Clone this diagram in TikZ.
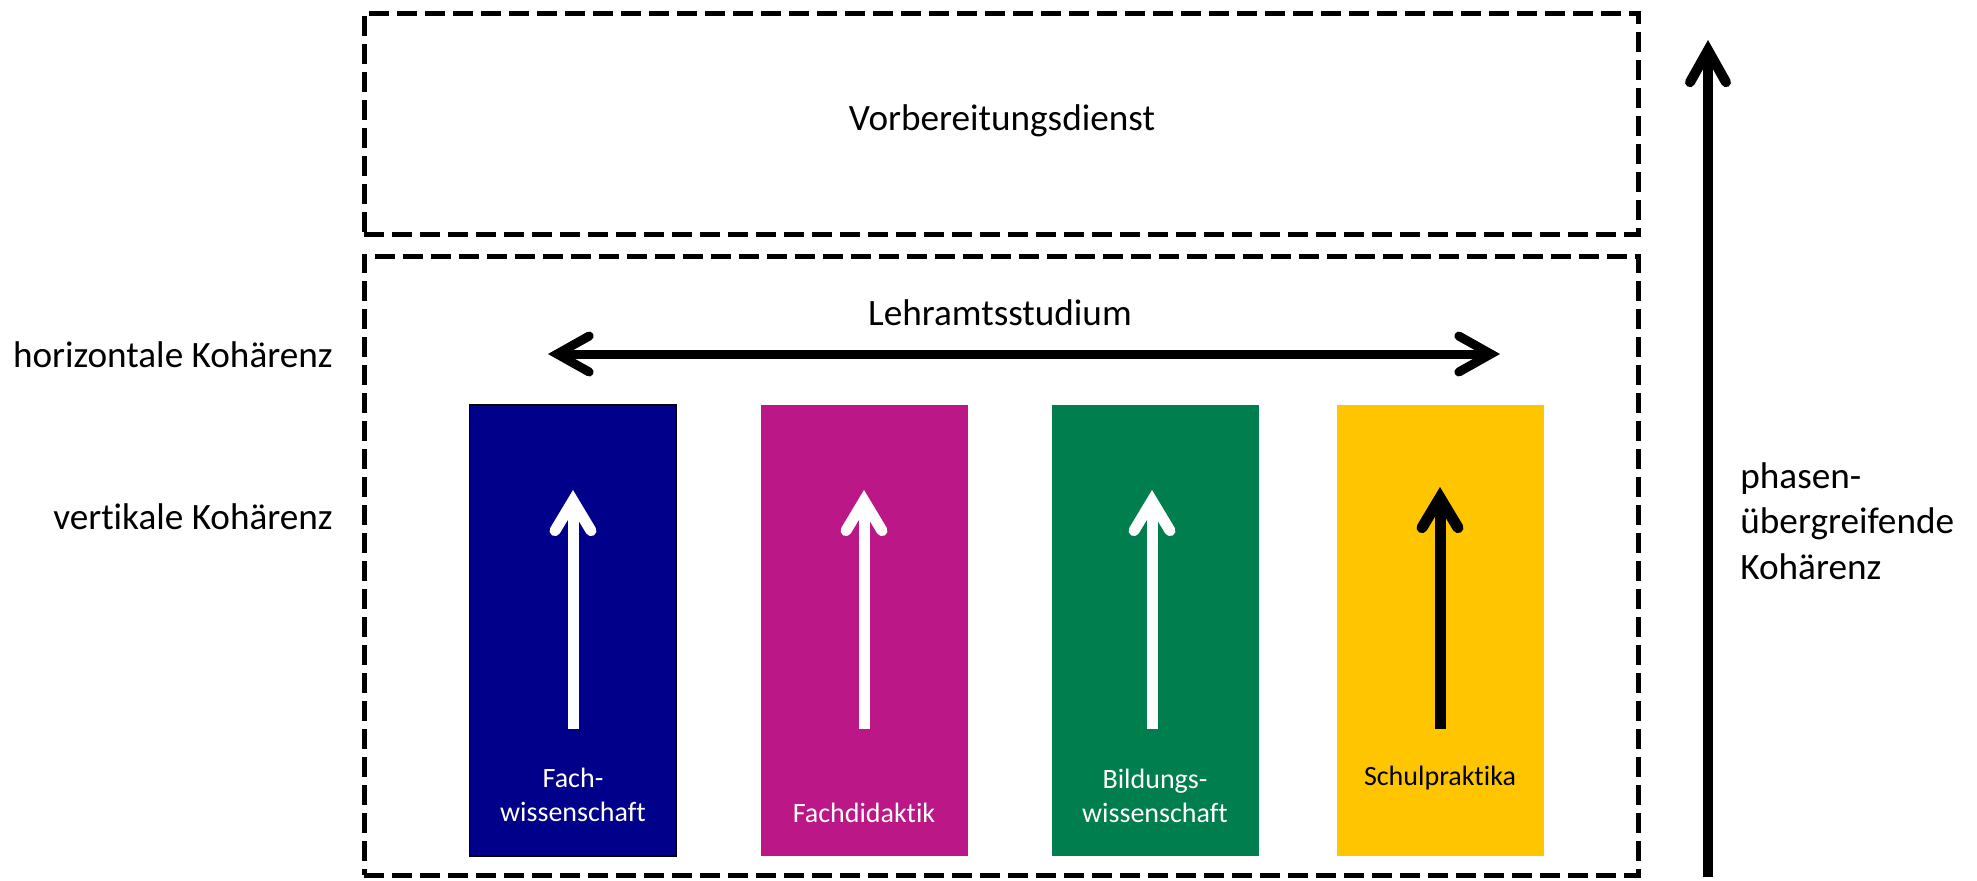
\documentclass[tikz,border=0pt]{standalone}
\usepackage{fontspec}
\setmainfont{Carlito}[Ligatures=NoCommon]
\usetikzlibrary{arrows.meta}
\definecolor{cblue}{RGB}{0,0,138}
\definecolor{cmag}{RGB}{187,23,134}
\definecolor{cgreen}{RGB}{0,126,78}
\definecolor{cyell}{RGB}{255,198,0}
\tikzset{
  dbox/.style={draw, line width=2.5pt, dash pattern=on 10pt off 4pt, minimum width=637pt, inner sep=0pt},
  col/.style={minimum width=103.5pt, minimum height=225.5pt, inner sep=0pt},
  big/.style={font=\fontsize{18.6pt}{22.7pt}\selectfont, inner sep=0pt},
  small/.style={font=\fontsize{14pt}{17pt}\selectfont, align=center},
  arr/.style={line width=5pt, -{Straight Barb[length=16pt, width=18pt, line cap=round, line join=miter]}},
  darr/.style={line width=4.5pt, {Straight Barb[length=16pt, width=18pt, line cap=round, line join=miter]}-{Straight Barb[length=16pt, width=18pt, line cap=round, line join=miter]}},
  warr/.style={line width=5.5pt, white, -{Straight Barb[length=15pt, width=18pt, line cap=round, line join=miter]}},
  karr/.style={line width=5.5pt, black, -{Straight Barb[length=15pt, width=18pt, line cap=round, line join=miter]}},
}
\begin{document}
\begin{tikzpicture}[x=0.5pt, y=-0.5pt]
\useasboundingbox (0,0) rectangle (1977,880);
\node[dbox, minimum height=110.5pt] (vd) at (1001,123.5) {};
\node[dbox, minimum height=309.5pt] (ls) at (1001,565.5) {};
\node[big] (vdt) at (1002,121) {Vorbereitungsdienst};
\node[big] (lst) at (1000,313) {Lehramtsstudium};
\node[big, anchor=east] (hk) at (333,355) {horizontale Kohärenz};
\node[big, anchor=east] (vk) at (333,517) {vertikale Kohärenz};
\node[big, anchor=north west, align=left] (pk) at (1740,462) {phasen-\\übergreifende\\Kohärenz};

\node[col, fill=cblue, draw=black, line width=0.8pt] (fw) at (573,630.5) {};
\node[col, fill=cmag] (fd) at (864,630.5) {};
\node[col, fill=cgreen] (bw) at (1155,630.5) {};
\node[col, fill=cyell] (sp) at (1440,630.5) {};

\node[small, text=white] (fwt) at (573,795) {Fach-\\wissenschaft};
\node[small, text=white] (fdt) at (864,813) {Fachdidaktik};
\node[small, text=white] (bwt) at (1155,796) {Bildungs-\\wissenschaft};
\node[small, text=black] (spt) at (1440,778) {Schulpraktika};

\coordinate (fwa) at (573,729); \coordinate (fwb) at (573,490);
\coordinate (fda) at (864,729); \coordinate (fdb) at (864,490);
\coordinate (bwa) at (1152,729); \coordinate (bwb) at (1152,490);
\coordinate (spa) at (1440,729); \coordinate (spb) at (1440,487);
\draw[warr] (fwa) -- (fwb);
\draw[warr] (fda) -- (fdb);
\draw[warr] (bwa) -- (bwb);
\draw[karr] (spa) -- (spb);

\coordinate (hl) at (548,354); \coordinate (hr) at (1500,354);
\draw[darr] (hl) -- (hr);
\coordinate (pa) at (1708,877); \coordinate (pb) at (1708,40);
\draw[arr] (pa) -- (pb);
\end{tikzpicture}
\end{document}
